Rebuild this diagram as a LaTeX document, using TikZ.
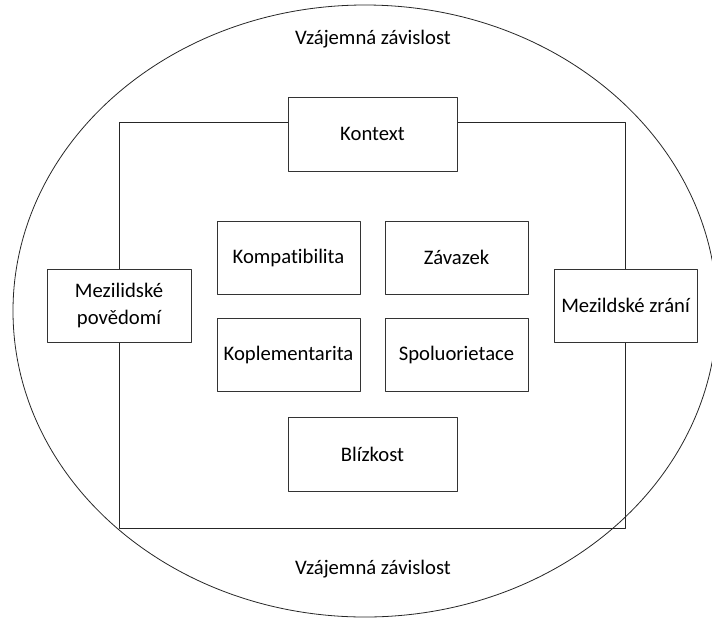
\documentclass[tikz,border=0pt]{standalone}
\usepackage{fontspec}
\setmainfont[Ligatures=NoCommon]{Carlito}
\tikzset{
  pole/.style={draw=black!80, fill=white, line width=0.7pt, minimum width=143*0.75pt, minimum height=73*0.75pt, inner sep=1pt, align=center},
  sirokepole/.style={pole, minimum width=169*0.75pt, minimum height=74*0.75pt},
  popisek/.style={inner sep=0pt}
}
\begin{document}
\begin{tikzpicture}[x=0.75pt, y=-0.75pt, font=\fontsize{15.5}{20}\selectfont, line join=round, line cap=round]
	\useasboundingbox (0,0) rectangle (712,618);
	% vnejsi elipsa
	\begin{scope}
		\clip (0,0) rectangle (712,618);
		\draw [black!85, line width=0.6pt] (365,311) ellipse [x radius=352, y radius=306];
	\end{scope}
	\path (373,39) node[popisek] (zavtop) {Vzájemná závislost}
		(373,569) node[popisek] (zavbot) {Vzájemná závislost};
	% ramec
	\node [draw=black!85, line width=0.7pt, minimum width=506*0.75pt, minimum height=406*0.75pt, inner sep=0pt] (ramec) at (372,325) {};
	% pole na ramci
	\node [sirokepole] (kontext) at (372.5,134) {Kontext};
	\node [sirokepole] (blizkost) at (372.5,454) {Blízkost};
	\node [pole, minimum width=144*0.75pt] (povedomi) at (119,305.5) {Mezilidské\\povědomí};
	\node [pole] (zrani) at (625.5,305.5) {Mezildské zrání};
	% vnitrni pole
	\node [pole] (kompat) at (288.5,257.5) {Kompatibilita};
	\node [pole] (zavazek) at (456.5,257.5) {Závazek};
	\node [pole] (kompl) at (288.5,355) {Koplementarita};
	\node [pole] (spoluor) at (456.5,355) {Spoluorietace};
\end{tikzpicture}
\end{document}
